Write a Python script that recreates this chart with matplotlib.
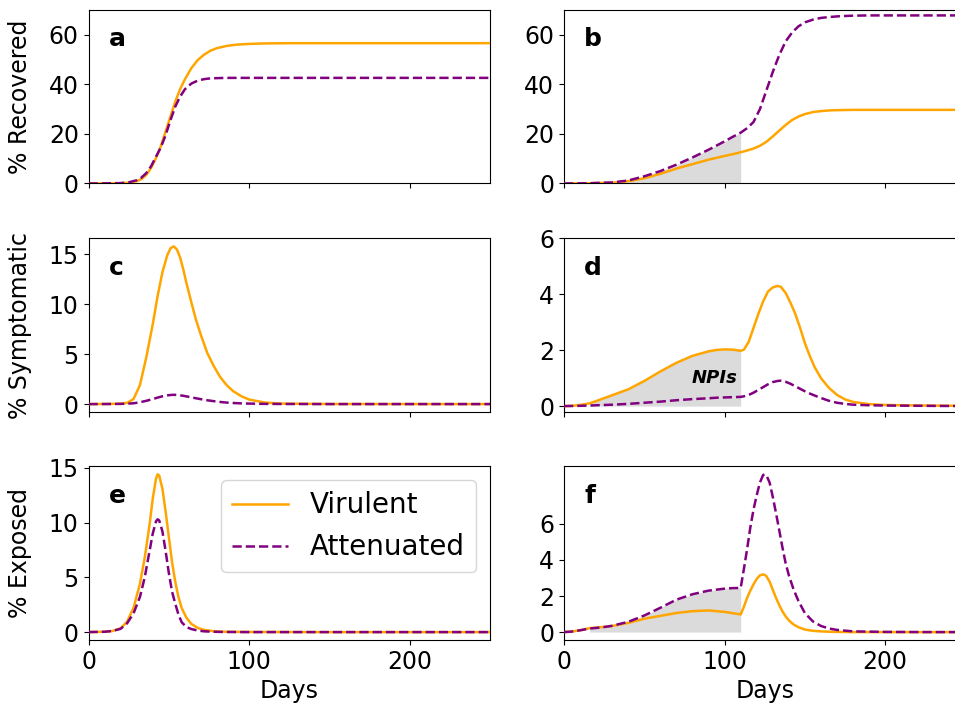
import numpy as np
import matplotlib
matplotlib.use("Agg")
import matplotlib.pyplot as plt

# values (percent of population)

# a: recovered, no NPIs
days_a = [0, 10, 20, 25, 30, 33, 36, 39, 42, 45, 48, 51, 54, 57, 60, 64, 68, 72,
          76, 80, 86, 92, 100, 110, 125, 150, 200, 250]
rec_vir_a = [0, 0.02, 0.1, 0.3, 0.9, 1.8, 3.5, 6.3, 10.2, 15, 21, 27, 33, 38, 42,
             46.5, 49.8, 52, 53.6, 54.6, 55.5, 56, 56.3, 56.5, 56.6, 56.6, 56.6, 56.6]
rec_att_a = [0, 0.03, 0.15, 0.45, 1.3, 2.4, 4.2, 7, 10.8, 14.5, 19.5, 25.5, 31, 35,
             38, 40.3, 41.5, 42.1, 42.4, 42.5, 42.6, 42.6, 42.6, 42.6, 42.6, 42.6, 42.6, 42.6]

# c: symptomatic, no NPIs
days_c = [0, 10, 20, 24, 28, 32, 36, 40, 43, 46, 49, 51, 53, 55, 57, 59, 61, 64, 67,
          70, 74, 78, 82, 86, 90, 95, 100, 110, 120, 150, 250]
sym_vir_c = [0, 0.01, 0.04, 0.12, 0.5, 1.9, 4.7, 8, 10.8, 13.2, 14.9, 15.6, 15.8,
             15.5, 14.7, 13.5, 12.1, 10.2, 8.4, 6.9, 5.1, 3.8, 2.7, 1.9, 1.3, 0.8,
             0.45, 0.15, 0.05, 0.01, 0]
sym_att_c = [0, 0.005, 0.02, 0.04, 0.08, 0.18, 0.33, 0.5, 0.65, 0.78, 0.87, 0.91,
             0.93, 0.92, 0.88, 0.83, 0.77, 0.68, 0.58, 0.49, 0.38, 0.29, 0.21, 0.15,
             0.11, 0.07, 0.05, 0.02, 0.01, 0, 0]

# e: exposed, no NPIs
days_e = [0, 10, 15, 20, 24, 28, 32, 35, 38, 40, 42, 43, 44, 46, 48, 50, 52, 54, 56,
          58, 61, 64, 68, 72, 78, 85, 100, 150, 250]
exp_vir_e = [0, 0.03, 0.1, 0.35, 0.95, 2.2, 4.4, 6.8, 9.8, 12.2, 14, 14.4, 14.3,
             13.1, 11, 8.7, 6.4, 4.6, 3.2, 2.2, 1.3, 0.75, 0.38, 0.2, 0.08, 0.03,
             0.01, 0, 0]
exp_att_e = [0, 0.03, 0.1, 0.3, 0.8, 1.7, 3.2, 5, 7.4, 9, 10.1, 10.3, 10.2, 9.2, 7.4,
             5.4, 3.7, 2.6, 1.6, 0.9, 0.45, 0.28, 0.14, 0.07, 0.03, 0.01, 0, 0, 0]

# b: recovered, with NPIs
days_b = [0, 10, 16, 20, 30, 40, 50, 60, 70, 80, 90, 100, 105, 110, 114, 118, 122,
          126, 130, 134, 138, 142, 146, 150, 155, 160, 166, 172, 180, 190, 200, 225, 250]
rec_vir_b = [0, 0.05, 0.1, 0.15, 0.3, 0.9, 2.1, 3.9, 6, 7.8, 9.6, 11.1, 11.8, 12.6,
             13.3, 14.1, 15.2, 16.8, 19, 21.3, 23.6, 25.6, 27, 28, 28.8, 29.2, 29.5,
             29.6, 29.7, 29.7, 29.7, 29.7, 29.7]
rec_att_b = [0, 0.05, 0.1, 0.2, 0.4, 1.2, 2.9, 5, 7.6, 10.5, 13.6, 17, 18.8, 20.5,
             22.3, 24.8, 30, 37.5, 45, 51.8, 57.3, 60.9, 63.4, 65, 66.1, 66.8, 67.2,
             67.5, 67.7, 67.8, 67.8, 67.8, 67.8]

# d: symptomatic, with NPIs
days_d = [0, 5, 10, 16, 20, 30, 40, 50, 60, 70, 80, 90, 95, 100, 105, 110, 112, 115,
          118, 121, 124, 127, 130, 133, 135, 138, 141, 144, 147, 150, 153, 156, 160,
          165, 170, 175, 180, 190, 200, 225, 250]
sym_vir_d = [0, 0.01, 0.04, 0.1, 0.18, 0.39, 0.6, 0.9, 1.24, 1.55, 1.8, 1.96, 2.01,
             2.03, 2.02, 1.98, 2.02, 2.3, 2.8, 3.3, 3.75, 4.1, 4.25, 4.3, 4.27, 4.05,
             3.7, 3.3, 2.8, 2.25, 1.8, 1.4, 1.0, 0.65, 0.4, 0.24, 0.15, 0.07, 0.04,
             0.02, 0.01]
sym_att_d = [0, 0.005, 0.01, 0.02, 0.03, 0.05, 0.08, 0.12, 0.16, 0.21, 0.25, 0.28,
             0.3, 0.31, 0.32, 0.33, 0.35, 0.4, 0.48, 0.58, 0.68, 0.78, 0.86, 0.9,
             0.91, 0.87, 0.8, 0.71, 0.62, 0.53, 0.45, 0.38, 0.29, 0.19, 0.12, 0.08,
             0.05, 0.03, 0.02, 0.01, 0]

# f: exposed, with NPIs
days_f = [0, 5, 10, 16, 20, 25, 30, 40, 50, 60, 70, 80, 90, 100, 105, 110, 112, 114,
          116, 118, 120, 122, 124, 125, 126, 128, 130, 132, 134, 136, 138, 140, 143,
          146, 150, 155, 160, 165, 170, 180, 200, 225, 250]
exp_vir_f = [0, 0.03, 0.1, 0.22, 0.25, 0.29, 0.34, 0.51, 0.74, 0.9, 1.06, 1.16, 1.2,
             1.12, 1.05, 0.98, 1.4, 1.9, 2.3, 2.65, 2.95, 3.15, 3.2, 3.17, 3.1, 2.8,
             2.35, 1.9, 1.5, 1.15, 0.87, 0.65, 0.42, 0.27, 0.14, 0.07, 0.04, 0.02,
             0.01, 0, 0, 0, 0]
exp_att_f = [0, 0.03, 0.1, 0.2, 0.23, 0.28, 0.35, 0.57, 0.92, 1.35, 1.8, 2.1, 2.3,
             2.41, 2.44, 2.45, 3.5, 4.6, 5.8, 6.8, 7.6, 8.3, 8.72, 8.75, 8.7, 8.3, 7.5,
             6.6, 5.66, 4.7, 3.82, 3.15, 2.35, 1.72, 1.05, 0.59, 0.34, 0.2, 0.12,
             0.04, 0.01, 0, 0]

npi_start, npi_end = 16, 110

plt.rcParams["font.size"] = 17

fig = plt.figure(figsize=(9.55, 7.07), dpi=100)

w, h = 0.4204, 0.2454
lefts = [0.0927, 0.5906]
bottoms = [0.7405, 0.4173, 0.0948]

panels = [
    (0, 0, "a", days_a, rec_vir_a, rec_att_a, "% Recovered", False),
    (1, 0, "b", days_b, rec_vir_b, rec_att_b, None, True),
    (0, 1, "c", days_c, sym_vir_c, sym_att_c, "% Symptomatic", False),
    (1, 1, "d", days_d, sym_vir_d, sym_att_d, None, True),
    (0, 2, "e", days_e, exp_vir_e, exp_att_e, "% Exposed", False),
    (1, 2, "f", days_f, exp_vir_f, exp_att_f, None, True),
]

axes = {}
for col, row, letter, t, vir, att, ylab, npi in panels:
    ax = fig.add_axes([lefts[col], bottoms[row], w, h])
    axes[letter] = ax
    t = np.array(t)
    vir = np.array(vir)
    att = np.array(att)
    if npi:
        mask = (t >= npi_start) & (t <= npi_end)
        ax.fill_between(t, 0, np.maximum(vir, att), where=mask,
                        color="lightgray", alpha=0.8, lw=0, zorder=1)
    ax.plot(t, vir, color="orange", lw=1.8, label="Virulent", zorder=3)
    ax.plot(t, att, color="purple", lw=1.8, ls="--", label="Attenuated", zorder=3)
    ax.set_xlim(0, 250)
    ax.set_xticks([0, 100, 200])
    ax.tick_params(labelsize=17)
    if row < 2:
        ax.tick_params(labelbottom=False)
    else:
        ax.set_xlabel("Days", fontsize=17)
    if ylab:
        ax.set_ylabel(ylab, fontsize=17)
        ax.yaxis.set_label_coords(-0.14, 0.5)
    ax.text(0.05, 0.9, letter, transform=ax.transAxes, fontsize=18,
            fontweight="bold", va="top", ha="left")

axes["a"].set_ylim(0, 70)
axes["b"].set_ylim(0, 70)
axes["a"].set_yticks([0, 20, 40, 60])
axes["b"].set_yticks([0, 20, 40, 60])
axes["c"].set_yticks([0, 5, 10, 15])
axes["e"].set_yticks([0, 5, 10, 15])
axes["d"].set_ylim(-0.21, 6)
axes["d"].set_yticks([0, 2, 4, 6])
axes["f"].set_yticks([0, 2, 4, 6])

axes["d"].text(94, 1.0, "NPIs", fontsize=13, fontweight="bold",
               fontstyle="italic", ha="center", va="center", zorder=4)

axes["e"].legend(loc="upper right", fontsize=20)

fig.savefig("out.png", dpi=100)
